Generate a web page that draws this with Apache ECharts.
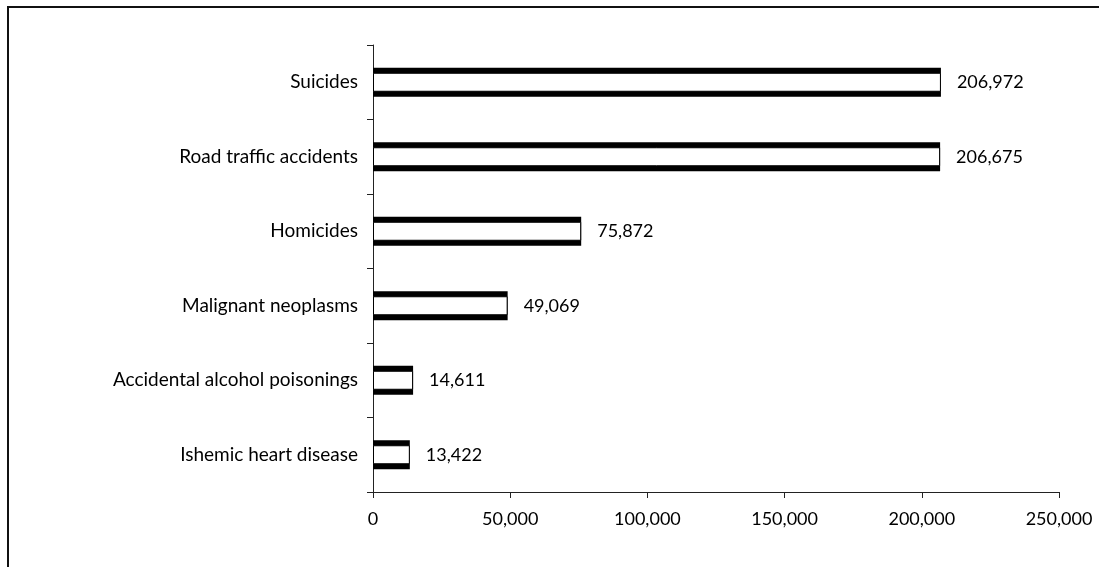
<!DOCTYPE html>
<html>
<head>
<meta charset="utf-8">
<script src="https://cdn.jsdelivr.net/npm/echarts@6/dist/echarts.min.js"></script>
<style>
  html, body { margin: 0; padding: 0; background: #fff; }
  #chart { width: 1099px; height: 567px; }
</style>
</head>
<body>
<div id="chart"></div>
<script>
// Causes of death, listed bottom to top as the category axis draws them
const causes = [
  'Ishemic heart disease',
  'Accidental alcohol poisonings',
  'Malignant neoplasms',
  'Homicides',
  'Road traffic accidents',
  'Suicides'
];
const deaths = [13422, 14611, 49069, 75872, 206675, 206972];
const xTicks = [0, 50000, 100000, 150000, 200000, 250000];

const fmt = v => Number(v).toLocaleString('en-US');
const FONT = 'Lato';
const INK = '#000';

const chart = echarts.init(document.getElementById('chart'), null, { renderer: 'canvas' });

const grid = { left: 373, right: 40, top: 45, bottom: 75, containLabel: false };

chart.setOption({
  animation: false,
  backgroundColor: '#fff',
  textStyle: { fontFamily: FONT },
  graphic: [{
    type: 'rect',
    shape: { x: 8, y: 7, width: 1300, height: 800 },
    style: { fill: 'none', stroke: '#111', lineWidth: 2 },
    silent: true,
    z: 100
  }],
  grid: grid,
  xAxis: {
    type: 'value',
    min: xTicks[0],
    max: xTicks[xTicks.length - 1],
    interval: xTicks[1] - xTicks[0],
    axisLine: { show: true, lineStyle: { color: '#222', width: 1 } },
    axisTick: { show: true, length: 6, lineStyle: { color: '#222' } },
    splitLine: { show: false },
    axisLabel: {
      color: INK, fontFamily: FONT, fontSize: 18, margin: 18,
      formatter: v => fmt(v)
    }
  },
  yAxis: [{
    type: 'category',
    data: causes,
    boundaryGap: true,
    axisLine: { show: true, lineStyle: { color: '#222', width: 1 } },
    axisTick: { show: true, length: 6, lineStyle: { color: '#222' } },
    axisLabel: { color: INK, fontFamily: FONT, fontSize: 19, margin: 15 },
    splitLine: { show: false }
  }, {
    type: 'category',
    data: causes,
    show: false
  }],
  series: [{
    // dark outer band gives the heavy top and bottom edges
    type: 'bar',
    yAxisIndex: 0,
    data: deaths,
    barWidth: 29,
    itemStyle: { color: '#000' },
    label: {
      show: true,
      position: 'right',
      distance: 16,
      color: INK,
      fontFamily: FONT,
      fontSize: 18,
      formatter: p => fmt(p.value)
    },
    z: 2
  }, {
    // white core with a thin outline
    type: 'bar',
    yAxisIndex: 1,
    data: deaths,
    barWidth: 19,
    itemStyle: { color: '#fff', borderColor: '#000', borderWidth: 1 },
    z: 3
  }]
});
</script>
</body>
</html>
